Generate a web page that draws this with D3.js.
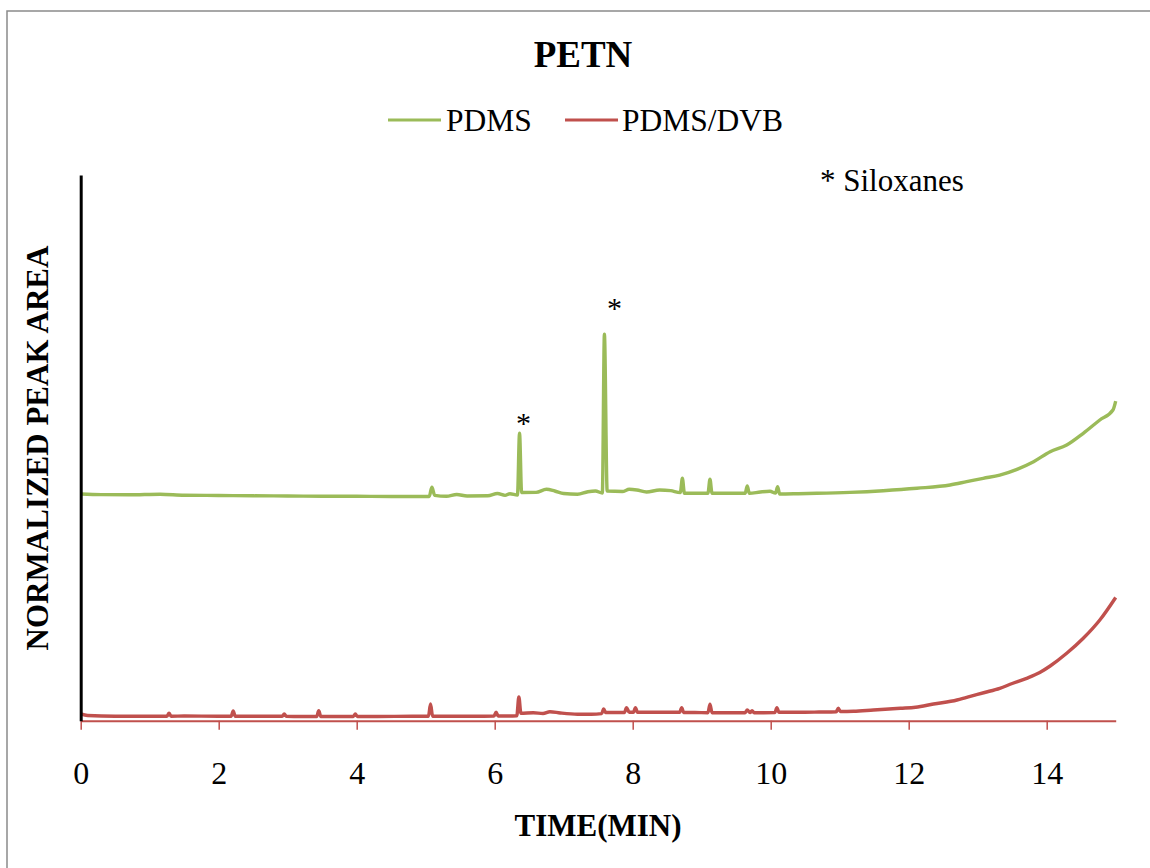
<!DOCTYPE html>
<html>
<head>
<meta charset="utf-8">
<script src="https://cdn.jsdelivr.net/npm/d3@7"></script>
<style>
  html, body { margin: 0; padding: 0; background: #fff; }
  svg { display: block; }
</style>
</head>
<body>
<svg id="chart" width="1150" height="868"></svg>
<script>
// Chromatogram traces: [retention time (min), normalized peak area]
const pdmsTrace = [
  [0.00, 0.4154], [0.30, 0.4143], [0.70, 0.4140], [1.15, 0.4151], [1.50, 0.4132],
  [2.00, 0.4127], [2.50, 0.4121], [3.00, 0.4118], [3.50, 0.4114], [4.00, 0.4112],
  [4.50, 0.4108], [5.05, 0.4108], [5.09, 0.4277], [5.13, 0.4130], [5.30, 0.4112],
  [5.45, 0.4145], [5.60, 0.4118], [5.90, 0.4121], [6.04, 0.4163], [6.15, 0.4130],
  [6.22, 0.4158], [6.33, 0.4136], [6.36, 0.5267], [6.39, 0.4182], [6.60, 0.4185],
  [6.75, 0.4240], [6.87, 0.4209], [7.00, 0.4163], [7.20, 0.4149], [7.35, 0.4196],
  [7.46, 0.4209], [7.56, 0.4173], [7.59, 0.7081], [7.63, 0.4209], [7.85, 0.4200],
  [7.95, 0.4240], [8.06, 0.4228], [8.20, 0.4191], [8.39, 0.4228], [8.55, 0.4215],
  [8.69, 0.4182], [8.72, 0.4442], [8.75, 0.4167], [9.00, 0.4167], [9.09, 0.4167],
  [9.12, 0.4424], [9.15, 0.4167], [9.50, 0.4167], [9.63, 0.4167], [9.66, 0.4301],
  [9.69, 0.4167], [9.85, 0.4191], [9.99, 0.4204], [10.07, 0.4170], [10.10, 0.4288],
  [10.13, 0.4155], [10.40, 0.4160], [10.67, 0.4167], [11.15, 0.4185], [11.63, 0.4215],
  [12.12, 0.4259], [12.60, 0.4319], [12.84, 0.4380], [13.08, 0.4442], [13.32, 0.4502],
  [13.57, 0.4607], [13.81, 0.4746], [14.05, 0.4929], [14.29, 0.5052], [14.53, 0.5267],
  [14.77, 0.5510], [14.96, 0.5694], [15.00, 0.5858]
];

const pdmsDvbTrace = [
  [0.00, 0.0123], [0.10, 0.0095], [0.50, 0.0081], [1.00, 0.0081], [1.25, 0.0081],
  [1.28, 0.0136], [1.31, 0.0081], [1.50, 0.0086], [2.00, 0.0081], [2.18, 0.0081],
  [2.21, 0.0178], [2.24, 0.0081], [2.50, 0.0081], [2.92, 0.0081], [2.95, 0.0123],
  [2.98, 0.0081], [3.20, 0.0077], [3.42, 0.0077], [3.45, 0.0183], [3.48, 0.0077],
  [3.70, 0.0077], [3.95, 0.0077], [3.98, 0.0123], [4.01, 0.0077], [4.30, 0.0077],
  [4.80, 0.0081], [5.04, 0.0081], [5.07, 0.0306], [5.10, 0.0081], [5.30, 0.0081],
  [5.70, 0.0081], [5.99, 0.0086], [6.02, 0.0154], [6.05, 0.0086], [6.20, 0.0086],
  [6.32, 0.0090], [6.35, 0.0434], [6.38, 0.0136], [6.56, 0.0147], [6.70, 0.0132],
  [6.80, 0.0165], [6.95, 0.0141], [7.20, 0.0117], [7.40, 0.0117], [7.55, 0.0130],
  [7.58, 0.0214], [7.61, 0.0150], [7.70, 0.0150], [7.88, 0.0150], [7.91, 0.0238],
  [7.95, 0.0154], [8.01, 0.0154], [8.04, 0.0238], [8.07, 0.0154], [8.30, 0.0154],
  [8.50, 0.0154], [8.68, 0.0154], [8.71, 0.0238], [8.74, 0.0150], [8.90, 0.0150],
  [9.09, 0.0147], [9.12, 0.0301], [9.15, 0.0147], [9.40, 0.0147], [9.63, 0.0147],
  [9.66, 0.0196], [9.70, 0.0150], [9.73, 0.0183], [9.76, 0.0147], [9.90, 0.0147],
  [10.06, 0.0150], [10.09, 0.0238], [10.12, 0.0154], [10.40, 0.0154], [10.70, 0.0159],
  [10.95, 0.0165], [10.98, 0.0227], [11.01, 0.0168], [11.20, 0.0172], [11.49, 0.0196],
  [11.88, 0.0227], [12.10, 0.0246], [12.36, 0.0306], [12.70, 0.0379], [12.84, 0.0429],
  [13.10, 0.0517], [13.32, 0.0594], [13.50, 0.0682], [13.71, 0.0777], [13.90, 0.0883],
  [14.05, 0.1002], [14.29, 0.1235], [14.53, 0.1510], [14.77, 0.1845], [15.00, 0.2258]
];

const seriesNames = ["PDMS", "PDMS/DVB"];
const seriesColors = ["#9BBB59", "#C0504D"];
const xTicks = [0, 2, 4, 6, 8, 10, 12, 14];
const xDomain = [0, 15];
const yDomain = [0, 1];
// Siloxane peaks flagged with an asterisk (retention time, peak height)
const siloxanePeaks = [[6.36, 0.5267], [7.59, 0.7081]];

const SERIF = "'Liberation Serif', 'Times New Roman', Times, serif";

const svg = d3.select("#chart");

function addText(sel, size, bold) {
  return sel.style("font-family", SERIF)
    .style("font-size", size + "px")
    .style("font-weight", bold ? "bold" : "normal")
    .style("fill", "#000");
}

// outer chart-area border
svg.append("rect")
  .attr("x", 7).attr("y", 11).attr("width", 1200).attr("height", 900)
  .attr("fill", "none").attr("stroke", "#8a8a8a").attr("stroke-width", 1.5);

const plot = { left: 80.7, right: 1115.7, top: 175, bottom: 720.7 };

const x = d3.scaleLinear().domain(xDomain).range([plot.left, plot.right]);
const y = d3.scaleLinear().domain(yDomain).range([plot.bottom, plot.top]);

const line = d3.line()
  .curve(d3.curveMonotoneX)
  .x(d => x(d[0])).y(d => y(d[1]));

// traces
[pdmsTrace, pdmsDvbTrace].forEach((trace, i) => {
  svg.append("path")
    .datum(trace)
    .attr("fill", "none")
    .attr("stroke", seriesColors[i])
    .attr("stroke-width", 3.4)
    .attr("stroke-linejoin", "round")
    .attr("d", line);
});

// x axis (time)
const xAxis = d3.axisBottom(x).tickValues(xTicks).tickSize(9).tickSizeOuter(0).tickFormat(d3.format("d"));
const gx = svg.append("g").attr("transform", `translate(0,${plot.bottom})`).call(xAxis);
gx.select(".domain").attr("stroke", "#C0504D").attr("stroke-width", 2);
gx.selectAll(".tick line").attr("stroke", "#C0504D").attr("stroke-width", 1.5);
addText(gx.selectAll(".tick text").attr("y", 63).attr("dy", 0), 32, false);

// y axis (no ticks)
const yAxis = d3.axisLeft(y).tickValues([]).tickSizeOuter(0);
const gy = svg.append("g").attr("transform", `translate(${plot.left},0)`).call(yAxis);
gy.select(".domain").attr("stroke", "#000").attr("stroke-width", 3);

// title
addText(svg.append("text")
  .attr("x", 583).attr("y", 67).attr("text-anchor", "middle"), 37, true)
  .text("PETN");

// legend
const legendItems = [
  { x1: 388, x2: 441, tx: 446 },
  { x1: 565, x2: 618, tx: 622 }
];
legendItems.forEach((item, i) => {
  svg.append("line")
    .attr("x1", item.x1).attr("x2", item.x2).attr("y1", 120).attr("y2", 120)
    .attr("stroke", seriesColors[i]).attr("stroke-width", 3);
  addText(svg.append("text").attr("x", item.tx).attr("y", 131), 31.5, false)
    .text(seriesNames[i]);
});

// annotation note
addText(svg.append("text").attr("x", 820).attr("y", 191), 31, false)
  .text("* Siloxanes");

// asterisks over siloxane peaks
const starOffsets = [[4, 0], [10, -16]];
siloxanePeaks.forEach((p, i) => {
  addText(svg.append("text")
    .attr("x", x(p[0]) + starOffsets[i][0])
    .attr("y", y(p[1]) + starOffsets[i][1])
    .attr("text-anchor", "middle"), 30, false)
    .text("*");
});

// axis titles
addText(svg.append("text")
  .attr("x", 598).attr("y", 836).attr("text-anchor", "middle"), 31, true)
  .text("TIME(MIN)");

addText(svg.append("text")
  .attr("transform", "translate(48,448) rotate(-90)")
  .attr("text-anchor", "middle"), 31, true)
  .text("NORMALIZED PEAK AREA");
</script>
</body>
</html>
